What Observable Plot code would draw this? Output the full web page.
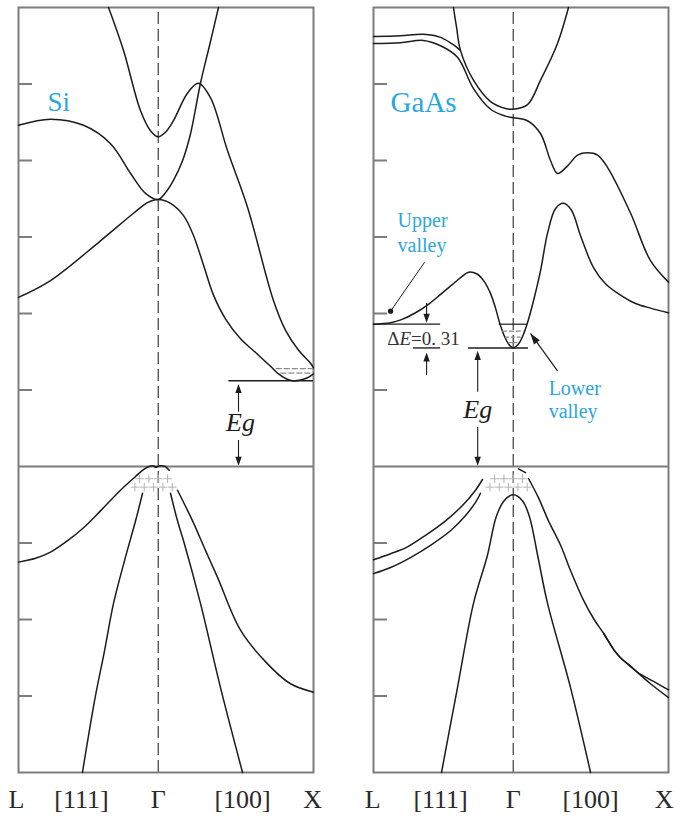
<!DOCTYPE html>
<html>
<head>
<meta charset="utf-8">
<script src="https://cdn.jsdelivr.net/npm/d3@7"></script>
<script src="https://cdn.jsdelivr.net/npm/@observablehq/plot@0.6"></script>
<style>
  body { margin: 0; background: #fff; }
  #chart { display: flex; width: 676px; height: 817px; overflow: hidden; }
</style>
</head>
<body>
<div id="chart"></div>
<script>
// Wave vector k along L–Γ–X (Γ = 0, X = 1); energy E in eV above the valence-band top.
const kL = -0.9, kX = 1;
const eMin = -4, eMax = 6;
const levelTicks = [-3, -2, -1, 1, 2, 3, 4, 5];

const siEg = 1.12;
const gaasEg = 1.55;
const gaasDeltaE = 0.31;

// ---------- Si bands, [k, E] ----------
const siCondA = [[-0.9,2.21],[-0.694,2.43],[-0.372,2.95],[-0.159,3.31],[-0.069,3.45],[0,3.49],[0.079,3.44],[0.163,3.28],[0.227,3.02],[0.292,2.63],[0.356,2.24],[0.433,1.93],[0.53,1.67],[0.627,1.49],[0.723,1.31],[0.775,1.21],[0.82,1.15],[0.865,1.12],[0.917,1.13],[0.962,1.16],[1,1.21]];
const siCondB = [[-0.9,4.46],[-0.694,4.54],[-0.481,4.46],[-0.307,4.22],[-0.178,3.83],[-0.082,3.57],[0,3.49],[0.047,3.58],[0.098,3.74],[0.157,4.0],[0.208,4.35],[0.272,5.01],[0.33,5.5],[0.388,6.0]];
const siCondC = [[-0.32,6.0],[-0.224,5.44],[-0.114,4.65],[-0.05,4.39],[0,4.31],[0.047,4.37],[0.098,4.52],[0.188,4.88],[0.259,5.01],[0.337,4.82],[0.446,4.13],[0.575,3.39],[0.742,2.17],[0.82,1.78],[0.904,1.52],[0.981,1.35],[1,1.29]];
const siValWide = [[-0.9,-1.25],[-0.79,-1.2],[-0.694,-1.12],[-0.584,-0.97],[-0.481,-0.8],[-0.372,-0.58],[-0.243,-0.31],[-0.146,-0.13],[-0.095,-0.04],[-0.06,0],[-0.035,0.01],[-0.01,-0.01]];
const siValCap = [[-0.02,-0.01],[0.015,0.01],[0.045,0],[0.07,-0.05]];
const siValLeft = [[-0.101,-0.35],[-0.146,-0.71],[-0.217,-1.23],[-0.288,-1.79],[-0.346,-2.41],[-0.41,-3.06],[-0.488,-4.0]];
const siValInner = [[0.079,-0.35],[0.124,-0.71],[0.163,-0.97],[0.272,-1.79],[0.401,-2.89],[0.543,-4.0]];
const siValOuter = [[0.124,-0.31],[0.221,-0.71],[0.305,-1.1],[0.382,-1.45],[0.53,-2.14],[0.704,-2.58],[0.852,-2.84],[1,-2.95]];

// ---------- GaAs bands, [k, E] ----------
const gaasCondA = [[-0.9,1.86],[-0.79,1.88],[-0.72,1.92],[-0.629,2.01],[-0.546,2.12],[-0.468,2.25],[-0.397,2.37],[-0.339,2.47],[-0.288,2.54],[-0.236,2.52],[-0.191,2.43],[-0.146,2.26],[-0.114,2.07],[-0.088,1.88],[-0.056,1.7],[-0.03,1.6],[0,1.55],[0.034,1.6],[0.06,1.7],[0.092,1.88],[0.131,2.17],[0.176,2.56],[0.221,3.05],[0.272,3.37],[0.324,3.44],[0.375,3.35],[0.433,3.02],[0.517,2.6],[0.594,2.39],[0.691,2.24],[0.788,2.13],[0.884,2.07],[1,2.01]];
const gaasCondB = [[-0.9,5.53],[-0.726,5.54],[-0.578,5.57],[-0.468,5.5],[-0.359,5.35],[-0.256,4.94],[-0.146,4.67],[-0.05,4.58],[0,4.56],[0.092,4.52],[0.176,4.35],[0.24,4.0],[0.285,3.83],[0.35,3.93],[0.414,4.07],[0.479,4.1],[0.543,4.07],[0.607,3.91],[0.756,3.31],[0.884,2.69],[1,2.41]];
const gaasCondC = [[-0.9,5.62],[-0.726,5.63],[-0.578,5.65],[-0.468,5.61],[-0.391,5.52],[-0.34,5.44]];
const gaasCondD = [[-0.385,6.0],[-0.365,5.74],[-0.34,5.44],[-0.256,5.05],[-0.146,4.77],[-0.05,4.68],[0,4.67],[0.092,4.73],[0.176,5.05],[0.285,5.53],[0.356,6.0]];
const gaasValOuter = [[-0.9,-1.22],[-0.79,-1.14],[-0.681,-1.05],[-0.565,-0.9],[-0.436,-0.71],[-0.327,-0.51],[-0.243,-0.31],[-0.198,-0.17]];
const gaasValInner = [[-0.9,-1.4],[-0.79,-1.32],[-0.662,-1.19],[-0.533,-1.03],[-0.404,-0.84],[-0.307,-0.64],[-0.243,-0.47],[-0.211,-0.35]];
const gaasValCentral = [[-0.462,-4.0],[-0.359,-2.89],[-0.256,-1.79],[-0.166,-1.16],[-0.11,-0.66],[-0.06,-0.45],[0,-0.37],[0.06,-0.45],[0.105,-0.66],[0.157,-1.16],[0.221,-1.79],[0.369,-2.89],[0.498,-4.0]];
const gaasValTop = [[0.034,-0.03],[0.079,-0.08]];
const gaasValRight = [[0.099,-0.16],[0.163,-0.41],[0.227,-0.71],[0.305,-1.03],[0.369,-1.36],[0.453,-1.75],[0.524,-2.01],[0.582,-2.18],[0.653,-2.41],[0.691,-2.5],[0.756,-2.61],[0.801,-2.69],[0.904,-2.81],[1,-2.92]];
const gaasValRight2 = [[0.582,-2.18],[0.653,-2.41],[0.691,-2.5],[0.788,-2.67],[0.884,-2.84],[1,-3.02]];

// Holes near the valence-band top (two rows of "+")
const holeRow1 = [-0.12, -0.06, 0, 0.06];
const holeRow2 = [-0.15, -0.09, -0.03, 0.03, 0.09];
const holeLevels = [-0.16, -0.27];

// Direction labels under each panel
const siKLabels = [{k: -0.913, t: "L"}, {k: -0.494, t: "[111]"}, {k: 0, t: "Γ"}, {k: 0.543, t: "[100]"}, {k: 0.994, t: "X"}];
const gaasKLabels = [{k: -0.906, t: "L"}, {k: -0.468, t: "[111]"}, {k: 0, t: "Γ"}, {k: 0.498, t: "[100]"}, {k: 0.972, t: "X"}];

const blue = "#2aa6df";
const ink = "#1c1c1c";
const grey = "#7d7d7d";
const serif = "'Liberation Serif', 'Times New Roman', serif";

const H = 817, MT = 7, MB = 45;
const pxPerE = (H - MT - MB) / (eMax - eMin);

// Filled arrow head whose tip sits on the anchor point; angle in screen degrees
function head(angleDeg, len = 9, half = 3.2) {
  const a = angleDeg * Math.PI / 180, c = Math.cos(a), s = Math.sin(a);
  return {
    draw(ctx) {
      ctx.moveTo(0, 0);
      ctx.lineTo(-len * c - half * s, -len * s + half * c);
      ctx.lineTo(-len * c + half * s, -len * s - half * c);
      ctx.closePath();
    }
  };
}
const headUp = head(-90), headDown = head(90);

function holes() {
  return [
    ...holeRow1.map(k => ({k, E: holeLevels[0]})),
    ...holeRow2.map(k => ({k, E: holeLevels[1]}))
  ];
}

function basePanel({width, marginLeft, marginRight, bands, kLabels, extra}) {
  const bandMarks = bands.map(b => Plot.line(b, {curve: "catmull-rom", stroke: ink, strokeWidth: 1.5}));
  return Plot.plot({
    width, height: H, marginTop: MT, marginBottom: MB, marginLeft, marginRight,
    x: {domain: [kL, kX], axis: null},
    y: {domain: [eMin, eMax], axis: null},
    style: {fontFamily: serif, background: "#fff", overflow: "hidden"},
    marks: [
      Plot.ruleX([0], {y1: eMin, y2: eMax, stroke: "#3a3a3a", strokeWidth: 1.2, strokeDasharray: "12,5"}),
      Plot.ruleY(levelTicks, {x1: kL, x2: kL + 0.09, stroke: grey, strokeWidth: 2}),
      Plot.ruleY([0], {stroke: grey, strokeWidth: 2}),
      Plot.frame({stroke: grey, strokeWidth: 2}),
      ...bandMarks,
      Plot.dot(holes(), {x: "k", y: "E", symbol: "plus", r: 2.9, stroke: "#b4b4b4", strokeWidth: 1}),
      ...extra,
      Plot.text(kLabels, {x: "k", y: () => eMin, text: "t", dy: 35, lineAnchor: "bottom", fontSize: 26, fontFamily: serif, fill: "#2a2a2a"})
    ]
  });
}

// ---------- Si ----------
const siW = 338, siML = 18, siMR = 25;
const siEgArrow = {k: 0.517, tipTop: 1.08, gapTop: 0.71, gapBottom: 0.34, tipBottom: 0.01};
const siPanel = basePanel({
  width: siW, marginLeft: siML, marginRight: siMR,
  bands: [siCondA, siCondB, siCondC, siValWide, siValCap, siValLeft, siValInner, siValOuter],
  kLabels: siKLabels,
  extra: [
    // electrons in the X valley
    Plot.ruleY([1.28], {x1: 0.76, x2: 1.0, stroke: "#8a8a8a", strokeWidth: 1.2, strokeDasharray: "6,2"}),
    Plot.ruleY([1.22], {x1: 0.79, x2: 1.0, stroke: "#8a8a8a", strokeWidth: 1.2, strokeDasharray: "6,2"}),
    // band-gap marker
    Plot.ruleY([siEg], {x1: 0.455, x2: 1.0, stroke: ink, strokeWidth: 1.5}),
    Plot.ruleX([siEgArrow.k], {y1: siEgArrow.tipTop - 0.05, y2: siEgArrow.gapTop, stroke: ink, strokeWidth: 1.1}),
    Plot.ruleX([siEgArrow.k], {y1: siEgArrow.gapBottom, y2: siEgArrow.tipBottom + 0.05, stroke: ink, strokeWidth: 1.1}),
    Plot.dot([{k: siEgArrow.k, E: siEgArrow.tipTop}], {x: "k", y: "E", symbol: headUp, fill: ink, stroke: "none"}),
    Plot.dot([{k: siEgArrow.k, E: siEgArrow.tipBottom}], {x: "k", y: "E", symbol: headDown, fill: ink, stroke: "none"}),
    Plot.text([{k: 0.53, E: 0.47, t: "Eg"}], {x: "k", y: "E", text: "t", lineAnchor: "bottom", fontSize: 26, fontStyle: "italic", fontFamily: serif, fill: ink}),
    Plot.text([{k: -0.713, E: 4.65, t: "Si"}], {x: "k", y: "E", text: "t", textAnchor: "start", lineAnchor: "bottom", fontSize: 27, fontFamily: serif, fill: blue})
  ]
});

// ---------- GaAs ----------
const gaW = 338, gaML = 35, gaMR = 8;
const pxPerK = (gaW - gaML - gaMR) / (kX - kL);
const gaEgArrow = {k: -0.229, tipTop: 1.51, gapTop: 0.97, gapBottom: 0.51, tipBottom: 0.01};
const dEArrows = {k: -0.558, downTail: 2.13, downTip: 1.88, upTail: 1.19, upTip: 1.49};
const lowerArrow = {k1: 0.285, E1: 1.25, k2: 0.111, E2: 1.74};
const upperLeader = {k1: -0.571, E1: 2.67, k2: -0.79, E2: 2.03};
const lowerAngle = Math.atan2(-(lowerArrow.E2 - lowerArrow.E1) * pxPerE, (lowerArrow.k2 - lowerArrow.k1) * pxPerK) * 180 / Math.PI;
const upperLevel = gaasEg + gaasDeltaE;

const gaPanel = basePanel({
  width: gaW, marginLeft: gaML, marginRight: gaMR,
  bands: [gaasCondA, gaasCondB, gaasCondC, gaasCondD, gaasValOuter, gaasValInner, gaasValCentral, gaasValTop, gaasValRight, gaasValRight2],
  kLabels: gaasKLabels,
  extra: [
    // electrons in the Γ valley
    Plot.ruleY([upperLevel], {x1: -0.09, x2: 0.09, stroke: ink, strokeWidth: 1.2}),
    Plot.ruleY([1.77], {x1: -0.07, x2: 0.07, stroke: "#8a8a8a", strokeWidth: 1.2, strokeDasharray: "5,2"}),
    Plot.ruleY([1.69], {x1: -0.05, x2: 0.05, stroke: "#8a8a8a", strokeWidth: 1.2, strokeDasharray: "4,2"}),
    Plot.ruleY([1.62], {x1: -0.03, x2: 0.03, stroke: "#8a8a8a", strokeWidth: 1.2}),
    // ΔE between the L (upper) and Γ (lower) valleys
    Plot.ruleY([upperLevel], {x1: kL, x2: -0.468, stroke: ink, strokeWidth: 1.3}),
    Plot.ruleY([gaasEg], {x1: -0.642, x2: -0.468, stroke: "#555", strokeWidth: 1.8}),
    Plot.ruleX([dEArrows.k], {y1: dEArrows.downTail, y2: dEArrows.downTip + 0.05, stroke: ink, strokeWidth: 1.1}),
    Plot.ruleX([dEArrows.k], {y1: dEArrows.upTail, y2: dEArrows.upTip - 0.05, stroke: ink, strokeWidth: 1.1}),
    Plot.dot([{k: dEArrows.k, E: dEArrows.downTip}], {x: "k", y: "E", symbol: headDown, fill: ink, stroke: "none"}),
    Plot.dot([{k: dEArrows.k, E: dEArrows.upTip}], {x: "k", y: "E", symbol: headUp, fill: ink, stroke: "none"}),
    Plot.text([{k: -0.578, E: 1.59, t: "ΔE=0. 31"}], {x: "k", y: "E", text: "t", lineAnchor: "bottom", fontSize: 19, fontFamily: serif, fill: "#333"}),
    // band-gap marker
    Plot.ruleY([gaasEg], {x1: -0.288, x2: 0.098, stroke: ink, strokeWidth: 1.5}),
    Plot.ruleX([gaEgArrow.k], {y1: gaEgArrow.tipTop - 0.05, y2: gaEgArrow.gapTop, stroke: ink, strokeWidth: 1.1}),
    Plot.ruleX([gaEgArrow.k], {y1: gaEgArrow.gapBottom, y2: gaEgArrow.tipBottom + 0.05, stroke: ink, strokeWidth: 1.1}),
    Plot.dot([{k: gaEgArrow.k, E: gaEgArrow.tipTop}], {x: "k", y: "E", symbol: headUp, fill: ink, stroke: "none"}),
    Plot.dot([{k: gaEgArrow.k, E: gaEgArrow.tipBottom}], {x: "k", y: "E", symbol: headDown, fill: ink, stroke: "none"}),
    Plot.text([{k: -0.229, E: 0.64, t: "Eg"}], {x: "k", y: "E", text: "t", lineAnchor: "bottom", fontSize: 26, fontStyle: "italic", fontFamily: serif, fill: ink}),
    // valley call-outs
    Plot.link([upperLeader], {x1: "k1", y1: "E1", x2: "k2", y2: "E2", stroke: ink, strokeWidth: 1}),
    Plot.dot([upperLeader], {x: "k2", y: "E2", r: 2.6, fill: ink, stroke: "none"}),
    Plot.link([lowerArrow], {x1: "k1", y1: "E1", x2: "k2", y2: "E2", stroke: ink, strokeWidth: 1.2}),
    Plot.dot([lowerArrow], {x: "k2", y: "E2", symbol: head(lowerAngle, 11, 3.6), fill: ink, stroke: "none"}),
    Plot.text([{k: -0.745, E: 3.13, t: "Upper"}, {k: -0.745, E: 2.8, t: "valley"}], {x: "k", y: "E", text: "t", textAnchor: "start", lineAnchor: "bottom", fontSize: 20, fontFamily: serif, fill: blue}),
    Plot.text([{k: 0.228, E: 0.94, t: "Lower"}, {k: 0.228, E: 0.63, t: "valley"}], {x: "k", y: "E", text: "t", textAnchor: "start", lineAnchor: "bottom", fontSize: 20, fontFamily: serif, fill: blue}),
    Plot.text([{k: -0.79, E: 4.63, t: "GaAs"}], {x: "k", y: "E", text: "t", textAnchor: "start", lineAnchor: "bottom", fontSize: 29, fontFamily: serif, fill: blue})
  ]
});

// Italic E inside the ΔE label
for (const t of gaPanel.querySelectorAll("text")) {
  if (t.textContent === "ΔE=0. 31") {
    t.textContent = "";
    const ns = "http://www.w3.org/2000/svg";
    [["Δ", null], ["E", "italic"], ["=0. 31", null]].forEach(([s, style]) => {
      const span = document.createElementNS(ns, "tspan");
      span.textContent = s;
      if (style) span.setAttribute("font-style", style);
      t.appendChild(span);
    });
  }
}

const chart = document.getElementById("chart");
chart.appendChild(siPanel);
chart.appendChild(gaPanel);
</script>
</body>
</html>
